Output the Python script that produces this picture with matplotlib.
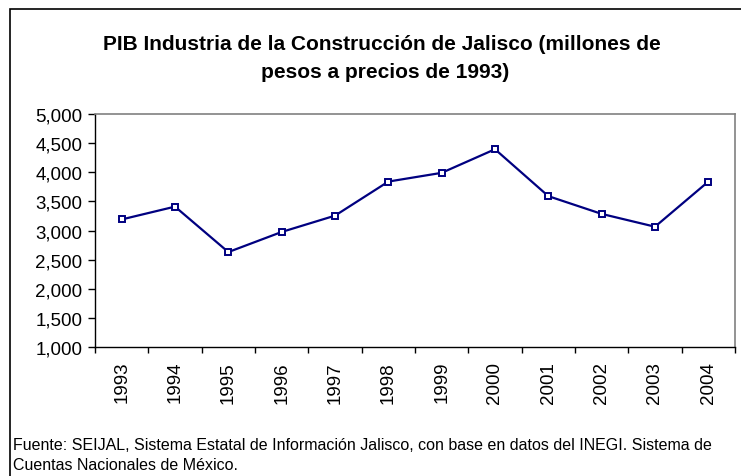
import matplotlib
matplotlib.use('Agg')
import matplotlib.pyplot as plt
from matplotlib.patches import Rectangle
from matplotlib.ticker import FuncFormatter, MultipleLocator, FixedLocator

plt.rcParams['font.family'] = ['Liberation Sans', 'DejaVu Sans']

# datos
years = ['1993', '1994', '1995', '1996', '1997', '1998',
         '1999', '2000', '2001', '2002', '2003', '2004']
pib = [3190, 3410, 2630, 2975, 3255, 3840, 3990, 4395, 3590, 3285, 3065, 3840]

fig = plt.figure(figsize=(7.41, 4.77), dpi=100)
ax = fig.add_axes([0.1282, 0.2704, 0.8637, 0.4885])

x = list(range(len(years)))
ax.plot(x, pib, color='#000080', lw=1.6, marker='s', markersize=5,
        markerfacecolor='white', markeredgecolor='#000080', markeredgewidth=1.4)

ax.set_xlim(-0.5, len(years) - 0.5)
ax.set_ylim(1000, 5000)
ax.yaxis.set_major_locator(MultipleLocator(500))
ax.yaxis.set_major_formatter(FuncFormatter(lambda v, p: f'{int(v):,}'))

# marcas del eje x entre categorías
ax.set_xticks(x)
ax.set_xticklabels(years, rotation=90, fontsize=13.5)
ax.xaxis.set_minor_locator(FixedLocator([i - 0.5 for i in range(len(years) + 1)]))
ax.tick_params(axis='x', which='major', length=0, pad=10)
ax.tick_params(axis='x', which='minor', length=4, width=1, direction='out')
ax.tick_params(axis='y', length=5, width=1, direction='out', labelsize=13.5, pad=4)

for s in ['top', 'right']:
    ax.spines[s].set_color('#808080')
    ax.spines[s].set_linewidth(1.2)
for s in ['left', 'bottom']:
    ax.spines[s].set_color('black')
    ax.spines[s].set_linewidth(1)

# marco exterior
fig.patches.append(Rectangle((10 / 741, -0.1), 1.1, 1 - 10 / 477 + 0.1,
                             transform=fig.transFigure, fill=False,
                             edgecolor='black', lw=1.2))

fig.text(0.515, 1 - 45 / 477, 'PIB Industria de la Construcción de Jalisco (millones de',
         ha='center', va='center', fontsize=15, fontweight='bold')
fig.text(0.52, 1 - 72 / 477, 'pesos a precios de 1993)',
         ha='center', va='center', fontsize=15, fontweight='bold')

fig.text(13 / 741, 1 - 445 / 477,
         'Fuente: SEIJAL, Sistema Estatal de Información Jalisco, con base en datos del INEGI. Sistema de',
         ha='left', va='center', fontsize=11.5)
fig.text(13 / 741, 1 - 466 / 477, 'Cuentas Nacionales de México.',
         ha='left', va='center', fontsize=11.5)

fig.savefig('out.png', dpi=100)
